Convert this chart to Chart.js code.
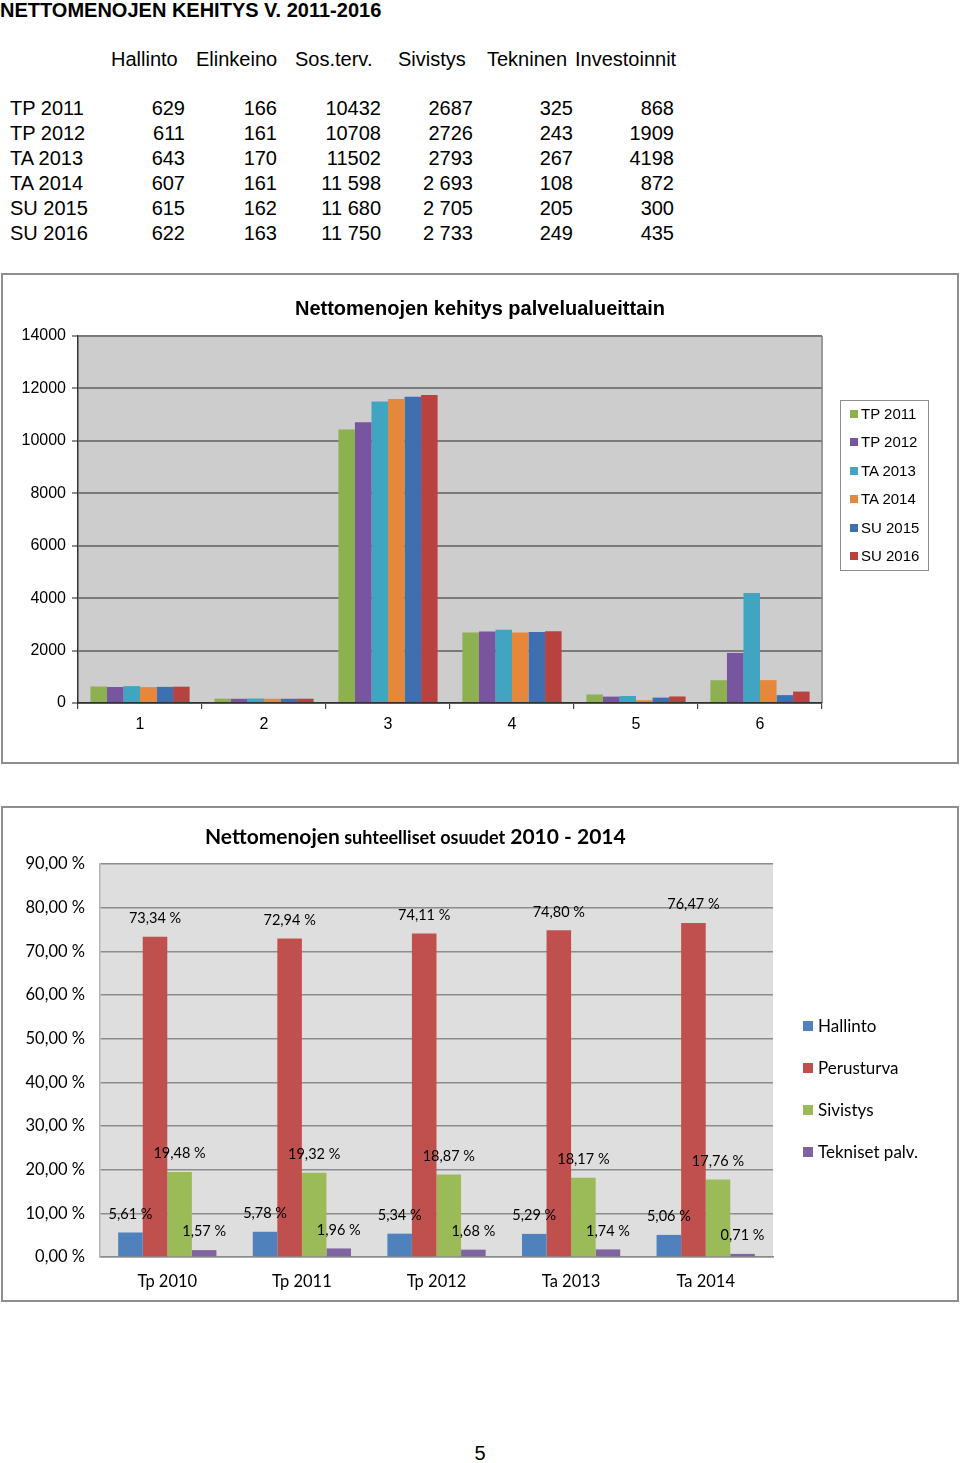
<!DOCTYPE html>
<html><head><meta charset="utf-8">
<script src="https://cdn.jsdelivr.net/npm/chart.js@4.4.1/dist/chart.umd.min.js"></script>
<style>
body{margin:0;width:960px;height:1463px;position:relative;background:#fff;font-family:"Liberation Sans",Arial,sans-serif;overflow:hidden;color:#000}
.t{position:absolute;white-space:nowrap;line-height:20px;font-size:20px}
.r{text-align:right}
.box{position:absolute;border:2px solid #8e8e8e;box-sizing:border-box}
canvas{position:absolute;left:0}
.lg{position:absolute;white-space:nowrap}
.sw{display:inline-block;vertical-align:middle}
</style></head><body>
<div id="root"></div>
<script>
// ---------- DATA ----------
const pageTitle = "NETTOMENOJEN KEHITYS V. 2011-2016";
const serviceAreas = ["Hallinto", "Elinkeino", "Sos.terv.", "Sivistys", "Tekninen", "Investoinnit"];
const yearLabels = ["TP 2011", "TP 2012", "TA 2013", "TA 2014", "SU 2015", "SU 2016"];
const tp2011 = [629, 166, 10432, 2687, 325, 868];
const tp2012 = [611, 161, 10708, 2726, 243, 1909];
const ta2013 = [643, 170, 11502, 2793, 267, 4198];
const ta2014 = [607, 161, 11598, 2693, 108, 872];
const su2015 = [615, 162, 11680, 2705, 205, 300];
const su2016 = [622, 163, 11750, 2733, 249, 435];
const spacedRows = [false, false, false, true, true, true];
const chart1Title = "Nettomenojen kehitys palvelualueittain";
const chart1Categories = ["1", "2", "3", "4", "5", "6"];

const chart2TitleParts = ["Nettomenojen", "suhteelliset osuudet", "2010 - 2014"];
const shareCategories = ["Tp 2010", "Tp 2011", "Tp 2012", "Ta 2013", "Ta 2014"];
const shareSeriesNames = ["Hallinto", "Perusturva", "Sivistys", "Tekniset palv."];
const hallintoShare = [5.61, 5.78, 5.34, 5.29, 5.06];
const perusturvaShare = [73.34, 72.94, 74.11, 74.80, 76.47];
const sivistysShare = [19.48, 19.32, 18.87, 18.17, 17.76];
const teknisetShare = [1.57, 1.96, 1.68, 1.74, 0.71];
const pageNumber = "5";

// ---------- STYLE ----------
const yearColors = ["#8db050", "#77559f", "#41a4c0", "#e6883b", "#3d6fb1", "#b8423f"];
const shareColors = ["#4f81bd", "#c0504d", "#9bbb59", "#8064a2"];

const root = document.getElementById('root');
function el(tag, cls, txt, style) {
  const e = document.createElement(tag);
  if (cls) e.className = cls;
  if (txt != null) e.textContent = txt;
  if (style) Object.assign(e.style, style);
  root.appendChild(e);
  return e;
}

// ---------- TABLE ----------
el('div', 't', pageTitle, {left: '0px', top: '0px', fontWeight: 'bold'});
const headerLeft = [111, 196, 295, 398, 487, 575];
const colRight = [185, 277, 381, 473, 573, 674];
serviceAreas.forEach((h, i) => el('div', 't', h, {left: headerLeft[i] + 'px', top: '49px'}));
const yearRows = [tp2011, tp2012, ta2013, ta2014, su2015, su2016];
function fmtNum(n, spaced) {
  const s = String(n);
  return spaced ? s.replace(/\B(?=(\d{3})+(?!\d))/g, ' ') : s;
}
yearRows.forEach((row, r) => {
  const top = 98 + r * 25;
  el('div', 't', yearLabels[r], {left: '10px', top: top + 'px'});
  row.forEach((v, c) => {
    el('div', 't r', fmtNum(v, spacedRows[r]), {left: (colRight[c] - 120) + 'px', width: '120px', top: top + 'px'});
  });
});

// ---------- CHART 1 ----------
el('div', 'box', null, {left: '1px', top: '273px', width: '958px', height: '491px'});
const c1 = el('canvas', null, null, {top: '273px'});
c1.width = 960; c1.height = 491;
el('div', 't', chart1Title, {left: '0px', width: '960px', textAlign: 'center', top: '298px', fontWeight: 'bold'});

const plotBg = {
  id: 'plotBg',
  beforeDraw(chart, args, opts) {
    const a = chart.chartArea, ctx = chart.ctx;
    ctx.save();
    ctx.fillStyle = opts.color;
    ctx.fillRect(a.left, a.top, a.right - a.left, a.bottom - a.top);
    if (opts.edge) {
      ctx.strokeStyle = opts.edge; ctx.lineWidth = 2;
      ctx.beginPath(); ctx.moveTo(a.right, a.top); ctx.lineTo(a.right, a.bottom); ctx.stroke();
    }
    ctx.restore();
  }
};

new Chart(c1, {
  type: 'bar',
  data: {
    labels: chart1Categories,
    datasets: yearLabels.map((y, i) => ({
      label: y, data: yearRows[i], backgroundColor: yearColors[i], borderWidth: 0,
      categoryPercentage: 0.8, barPercentage: 1.0
    }))
  },
  options: {
    responsive: false, animation: false, devicePixelRatio: 1,
    layout: {padding: {left: 0, right: 138, top: 63, bottom: 0}},
    plugins: {legend: {display: false}, title: {display: false}, tooltip: {enabled: false},
      plotBg: {color: '#cdcdcd', edge: '#9a9a9a'}},
    scales: {
      x: {
        afterFit(s) { s.height = 61; },
        grid: {display: true, drawOnChartArea: false, offset: true, tickLength: 6, color: '#444', lineWidth: 1.2},
        border: {display: true, color: '#333', width: 1.5},
        ticks: {color: '#000', font: {family: 'Liberation Sans', size: 16}, padding: 6}
      },
      y: {
        min: 0, max: 14000,
        afterFit(s) { s.width = 78; },
        ticks: {stepSize: 2000, color: '#000', font: {family: 'Liberation Sans', size: 16}, padding: 6,
          callback: v => String(v)},
        grid: {color: '#7a7a7a', lineWidth: 2, tickLength: 6, tickColor: '#444', tickWidth: 1.2},
        border: {display: true, color: '#333', width: 1.5}
      }
    }
  },
  plugins: [plotBg]
});

// legend 1
el('div', 'box', null, {left: '840px', top: '400px', width: '89px', height: '171px', border: '1px solid #8e8e8e'});
yearLabels.forEach((y, i) => {
  const d = el('div', 'lg', null, {left: '850px', top: (406 + i * 28.4) + 'px', fontSize: '15px', lineHeight: '16px'});
  const s = document.createElement('span'); s.className = 'sw';
  Object.assign(s.style, {width: '8px', height: '8px', background: yearColors[i], marginRight: '3px', marginTop: '-2px'});
  d.appendChild(s); d.appendChild(document.createTextNode(y));
});

// ---------- CHART 2 ----------
el('div', 'box', null, {left: '1px', top: '806px', width: '958px', height: '496px'});
const c2 = el('canvas', null, null, {top: '806px'});
c2.width = 960; c2.height = 496;
const t2 = el('div', 't', null, {left: '205px', top: '824px', fontFamily: 'Lato', fontWeight: 'bold', lineHeight: '24px'});
chart2TitleParts.forEach((p, i) => {
  const s = document.createElement('span');
  s.textContent = (i ? ' ' : '') + p;
  s.style.fontSize = (i === 1 ? '18px' : '21px');
  t2.appendChild(s);
});

function fmtPct(v) { return v.toFixed(2).replace('.', ',') + ' %'; }
const barLabels = {
  id: 'barLabels',
  afterDatasetsDraw(chart) {
    const ctx = chart.ctx;
    ctx.save();
    ctx.font = '14.5px Lato'; ctx.fillStyle = '#000';
    ctx.textAlign = 'center'; ctx.textBaseline = 'middle';
    chart.data.datasets.forEach((ds, i) => {
      chart.getDatasetMeta(i).data.forEach((bar, j) => {
        ctx.fillText(fmtPct(ds.data[j]), bar.x, bar.y - 18.5);
      });
    });
    ctx.restore();
  }
};
const shareSeries = [hallintoShare, perusturvaShare, sivistysShare, teknisetShare];
new Chart(c2, {
  type: 'bar',
  data: {
    labels: shareCategories,
    datasets: shareSeriesNames.map((n, i) => ({
      label: n, data: shareSeries[i], backgroundColor: shareColors[i], borderWidth: 0,
      categoryPercentage: 0.73, barPercentage: 1.0
    }))
  },
  options: {
    responsive: false, animation: false, devicePixelRatio: 1,
    layout: {padding: {left: 0, right: 187, top: 58, bottom: 0}},
    plugins: {legend: {display: false}, title: {display: false}, tooltip: {enabled: false},
      plotBg: {color: '#dedede'}},
    scales: {
      x: {
        afterFit(s) { s.height = 45; },
        grid: {display: false},
        border: {display: true, color: '#8c8c8c', width: 1.5},
        ticks: {color: '#000', font: {family: 'Lato', size: 16.5}, padding: 7}
      },
      y: {
        min: 0, max: 90,
        afterFit(s) { s.width = 100; },
        ticks: {stepSize: 10, color: '#000', font: {family: 'Lato', size: 16.5}, padding: 15,
          callback: v => fmtPct(v)},
        grid: {color: '#8c8c8c', lineWidth: 1.5, drawTicks: false},
        border: {display: true, color: '#b5b5b5', width: 1.5}
      }
    }
  },
  plugins: [plotBg, barLabels]
});

// legend 2
shareSeriesNames.forEach((n, i) => {
  const d = el('div', 'lg', null, {left: '803px', top: (1016 + i * 42) + 'px', fontSize: '17px', lineHeight: '20px', fontFamily: 'Lato'});
  const s = document.createElement('span'); s.className = 'sw';
  Object.assign(s.style, {width: '10px', height: '10px', background: shareColors[i], marginRight: '5px', marginTop: '-3px'});
  d.appendChild(s); d.appendChild(document.createTextNode(n));
});

el('div', 't', pageNumber, {left: '430px', width: '100px', textAlign: 'center', top: '1443px'});
</script>
</body></html>
